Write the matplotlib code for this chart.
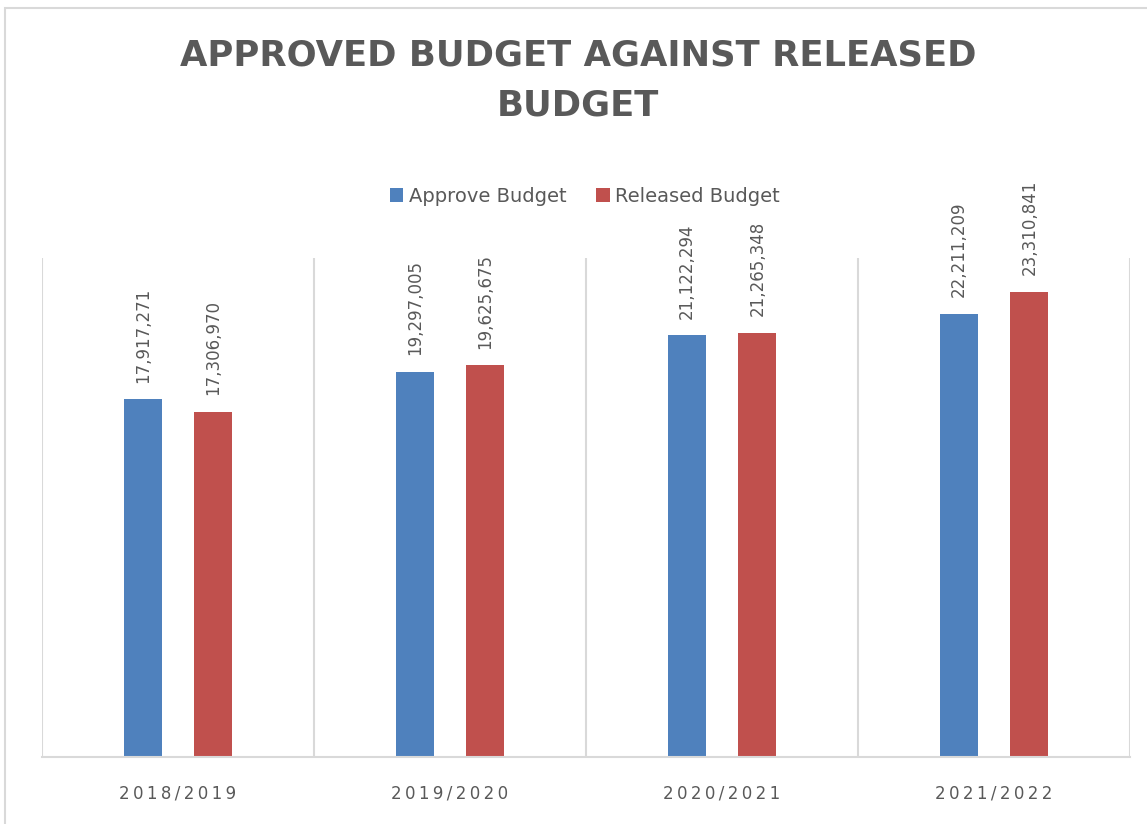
# approved vs released budget, grouped bars
import numpy as np
import matplotlib.pyplot as plt
from matplotlib.patches import Rectangle

anos = ["2018/2019", "2019/2020", "2020/2021", "2021/2022"]
aprovado = [17917271, 19297005, 21122294, 22211209]
liberado = [17306970, 19625675, 21265348, 23310841]

azul = "#4f81bd"
vermelho = "#c0504d"
cinza = "#595959"
linha = "#d9d9d9"

fig = plt.figure(figsize=(11.47, 8.24), dpi=100)
ax = fig.add_axes([42 / 1147, 0.0813, 1088 / 1147, 0.6056])

# moldura externa do grafico
fig.patches.append(Rectangle((5 / 1147, -0.01), 1.02, 1 - 8 / 824 + 0.01,
                             transform=fig.transFigure, fill=False,
                             edgecolor=linha, linewidth=1.5))

x = np.arange(len(anos))
w = 0.139
off = 0.13
b1 = ax.bar(x - off, aprovado, w, color=azul, label="Approve Budget")
b2 = ax.bar(x + off, liberado, w, color=vermelho, label="Released Budget")

for barras in (b1, b2):
    for b in barras:
        ax.annotate(f"{int(b.get_height()):,}",
                    (b.get_x() + b.get_width() / 2, b.get_height()),
                    xytext=(0, 12), textcoords="offset points",
                    rotation=90, ha="center", va="bottom",
                    fontsize=12, color=cinza)

ax.set_xlim(-0.5, len(anos) - 0.5)
ax.set_ylim(0, 25000000)
ax.set_yticks([])
ax.set_xticks(x)
ax.set_xticklabels(["\u2009".join(a) for a in anos], fontsize=12, color=cinza)
ax.tick_params(axis="x", length=0, pad=20)

# linhas separando categorias
for s in np.arange(-0.5, len(anos), 1.0):
    ax.axvline(s, color=linha, linewidth=1.5, zorder=0)

for lado in ["top", "right", "left"]:
    ax.spines[lado].set_visible(False)
ax.spines["bottom"].set_color(linha)
ax.spines["bottom"].set_linewidth(1.5)

fig.text(0.504, 0.902, "APPROVED BUDGET AGAINST RELEASED\nBUDGET",
         ha="center", va="center", fontsize=25.5, fontweight="bold",
         color=cinza, linespacing=1.6)

fig.legend(handles=[b1, b2], loc="center", bbox_to_anchor=(0.51, 0.762),
           ncol=2, frameon=False, fontsize=14, labelcolor=cinza,
           handlelength=0.7, handleheight=0.7, handletextpad=0.3,
           columnspacing=1.5)

fig.savefig("out.png", dpi=100)
